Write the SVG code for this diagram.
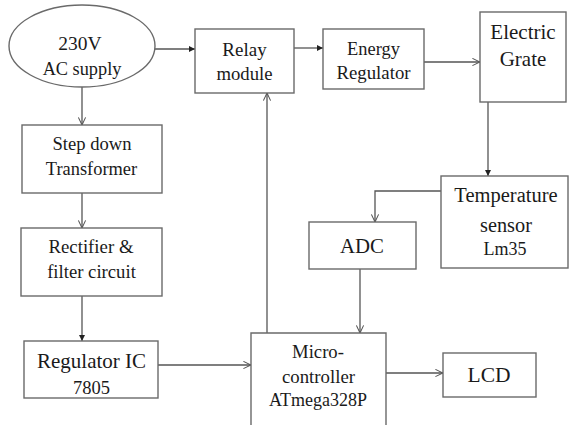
<svg xmlns="http://www.w3.org/2000/svg" width="569" height="425" viewBox="0 0 569 425">
<defs>
<style>
.box{fill:#fff;stroke:#6a6a6a;stroke-width:1.4}
.t{fill:#1a1a1a;text-anchor:middle}
.c{fill:none;stroke:#555;stroke-width:1.3}
.f{marker-end:url(#fill)}
.o{marker-end:url(#open)}
</style>
<marker id="fill" viewBox="0 0 10 10" refX="10" refY="5" markerWidth="6" markerHeight="6" markerUnits="userSpaceOnUse" orient="auto">
<path d="M0,0 L10,5 L0,10 Z" fill="#222"/>
</marker>
<marker id="open" viewBox="0 0 10 10" refX="9.5" refY="5" markerWidth="8" markerHeight="9" markerUnits="userSpaceOnUse" orient="auto">
<path d="M0,0.5 L9.5,5 L0,9.5" fill="none" stroke="#555" stroke-width="1.3"/>
</marker>
</defs>
<rect width="569" height="425" fill="#fff"/>
<g id="connectors">
<line class="c f" x1="155" y1="49" x2="195" y2="49"/>
<line class="c f" x1="294" y1="48" x2="323" y2="48"/>
<line class="c o" x1="424" y1="62" x2="480" y2="62"/>
<line class="c f" x1="488" y1="102" x2="488" y2="176"/>
<polyline class="c o" points="441,191 375,191 375,222"/>
<line class="c o" x1="360" y1="269" x2="360" y2="333"/>
<line class="c o" x1="267" y1="333" x2="267" y2="93"/>
<line class="c o" x1="82" y1="87" x2="82" y2="125"/>
<line class="c o" x1="82" y1="193" x2="82" y2="228"/>
<line class="c f" x1="82" y1="296" x2="82" y2="341"/>
<line class="c o" x1="158" y1="365" x2="251" y2="365"/>
<line class="c o" x1="386" y1="373" x2="443" y2="373"/>
</g>
<g font-family="Liberation Serif, Tinos, Times New Roman, DejaVu Serif, serif">
<g id="ac-supply">
<ellipse class="box" cx="82" cy="46" rx="73" ry="41"/>
<text class="t" x="80" y="50" font-size="19.5">230V</text>
<text class="t" x="82" y="75" font-size="18.3">AC supply</text>
</g>
<g id="relay">
<rect class="box" x="195" y="29" width="99" height="64"/>
<text class="t" x="244.5" y="56" font-size="19">Relay</text>
<text class="t" x="244.5" y="80" font-size="18.7">module</text>
</g>
<g id="energy-regulator">
<rect class="box" x="323" y="29" width="101" height="60"/>
<text class="t" x="373.5" y="55" font-size="18.4">Energy</text>
<text class="t" x="373.5" y="79" font-size="18.8">Regulator</text>
</g>
<g id="electric-grate">
<rect class="box" x="480" y="12" width="86" height="90"/>
<text class="t" x="523" y="39" font-size="21">Electric</text>
<text class="t" x="523" y="66" font-size="21">Grate</text>
</g>
<g id="temperature-sensor">
<rect class="box" x="441" y="176" width="127" height="92"/>
<text class="t" x="506" y="202" font-size="20.5">Temperature</text>
<text class="t" x="506" y="232" font-size="20.3">sensor</text>
<text class="t" x="505" y="255" font-size="18">Lm35</text>
</g>
<g id="adc">
<rect class="box" x="309" y="222" width="107" height="47"/>
<text class="t" x="362" y="253" font-size="20.8">ADC</text>
</g>
<g id="step-down">
<rect class="box" x="22" y="125" width="140" height="68"/>
<text class="t" x="92" y="150" font-size="18.6">Step down</text>
<text class="t" x="91.5" y="175" font-size="18.4">Transformer</text>
</g>
<g id="rectifier">
<rect class="box" x="21" y="228" width="141" height="68"/>
<text class="t" x="91" y="253" font-size="18.8">Rectifier &amp;</text>
<text class="t" x="91.5" y="278" font-size="18.7">filter circuit</text>
</g>
<g id="regulator-ic">
<rect class="box" x="24" y="341" width="134" height="57"/>
<text class="t" x="91.5" y="368" font-size="21">Regulator IC</text>
<text class="t" x="91.5" y="394" font-size="18.5">7805</text>
</g>
<g id="microcontroller">
<path class="box" d="M251,426 L251,333 L386,333 L386,426"/>
<text class="t" x="318" y="358" font-size="18.7">Micro-</text>
<text class="t" x="318.5" y="383" font-size="18.8">controller</text>
<text class="t" x="318" y="406" font-size="18">ATmega328P</text>
</g>
<g id="lcd">
<rect class="box" x="443" y="353" width="93" height="44"/>
<text class="t" x="489" y="382" font-size="21.5">LCD</text>
</g>
</g>
</svg>
